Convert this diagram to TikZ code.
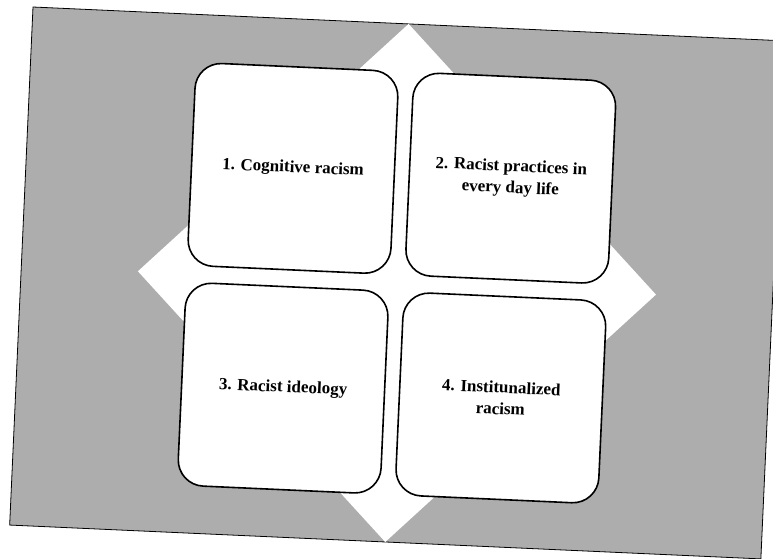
\documentclass[tikz,border=0pt]{standalone}
\usepackage{fontspec}
\setmainfont{Liberation Serif}

\begin{document}
\begin{tikzpicture}[x=1pt, y=1pt,
		quad/.style={draw=black, line width=1.6pt, fill=white, rounded corners=26pt,
			minimum width=203pt, minimum height=203pt, align=center,
			font=\fontsize{17}{21.5}\selectfont\bfseries},
		backdrop/.style={draw=black, line width=0.8pt, fill=black!32}]
	\useasboundingbox (0,0) rectangle (773,-558);
	\clip (0,0) rectangle (773,-558);
	\begin{scope}[shift={(33,-7)}, rotate=-2.58, transform shape]
		\draw[backdrop] (0,0) rectangle (752,-518.6);
		\fill[white] (376,0) -- (635.3,-259.3) -- (376,-518.6) -- (116.7,-259.3) -- cycle;

		\node[quad] (cog) at (267,-149.5) {1. Cognitive racism};
		\node[quad] (prac) at (485,-149.5) {2. Racist practices in \\ every day life};
		\node[quad] (ideo) at (267,-369.5) {3. Racist ideology};
		\node[quad] (inst) at (485,-369.5) {4. Institunalized \\ racism};
	\end{scope}
\end{tikzpicture}
\end{document}
